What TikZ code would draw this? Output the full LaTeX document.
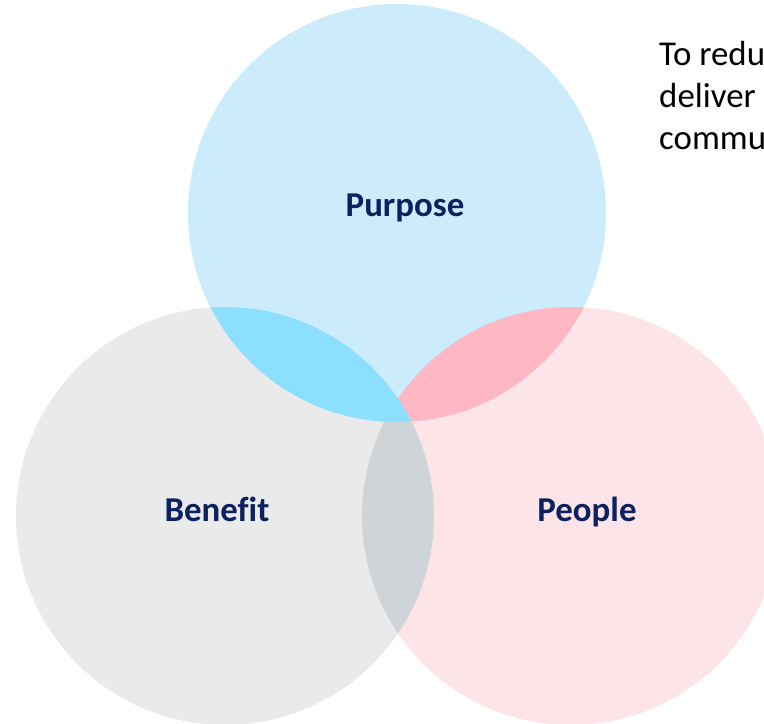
\documentclass[tikz,border=0pt]{standalone}
\usepackage{fontspec}
\setmainfont[Ligatures=NoCommon]{Carlito}
\definecolor{purposefill}{HTML}{CCEBFB}
\definecolor{benefitfill}{HTML}{EAEAEA}
\definecolor{peoplefill}{HTML}{FDE4E8}
\definecolor{pbfill}{HTML}{8CDFFF}
\definecolor{ppfill}{HTML}{FFB7C3}
\definecolor{bpfill}{HTML}{CFD4D8}
\definecolor{navy}{HTML}{0B2160}
\begin{document}
\begin{tikzpicture}[x=1bp,y=-1bp,
  circlabel/.style={font=\fontsize{35}{40}\selectfont\bfseries, text=navy, anchor=base, inner sep=0pt},
  sidetext/.style={font=\fontsize{35}{42}\selectfont, text=black, anchor=base west, inner sep=0pt}]
  \useasboundingbox (0,0) rectangle (764,724);
  \clip (0,0) rectangle (764,724);
  % circle centres and radius
  \def\rad{209}
  \coordinate (cp) at (397,213);
  \coordinate (cb) at (225,516);
  \coordinate (ce) at (571,516);
  % base discs
  \fill[benefitfill] (cb) circle[radius=\rad];
  \fill[peoplefill] (ce) circle[radius=\rad];
  \fill[purposefill] (cp) circle[radius=\rad];
  % pairwise overlaps
  \begin{scope}
    \clip (cb) circle[radius=\rad];
    \fill[bpfill] (ce) circle[radius=\rad];
  \end{scope}
  \begin{scope}
    \clip (cp) circle[radius=\rad];
    \fill[ppfill] (ce) circle[radius=\rad];
  \end{scope}
  \begin{scope}
    \clip (cp) circle[radius=\rad];
    \fill[pbfill] (cb) circle[radius=\rad];
  \end{scope}
  % labels
  \node[circlabel] (purpose) at (405,216) {Purpose};
  \node[circlabel] (benefit) at (217,521) {Benefit};
  \node[circlabel] (people) at (587,521) {People};
  % aim statement, one line per node
  \node[sidetext] (aim1) at (659,66) {To redu};
  \node[sidetext] (aim2) at (659,108) {deliver};
  \node[sidetext] (aim3) at (659,150) {commu};
\end{tikzpicture}
\end{document}
